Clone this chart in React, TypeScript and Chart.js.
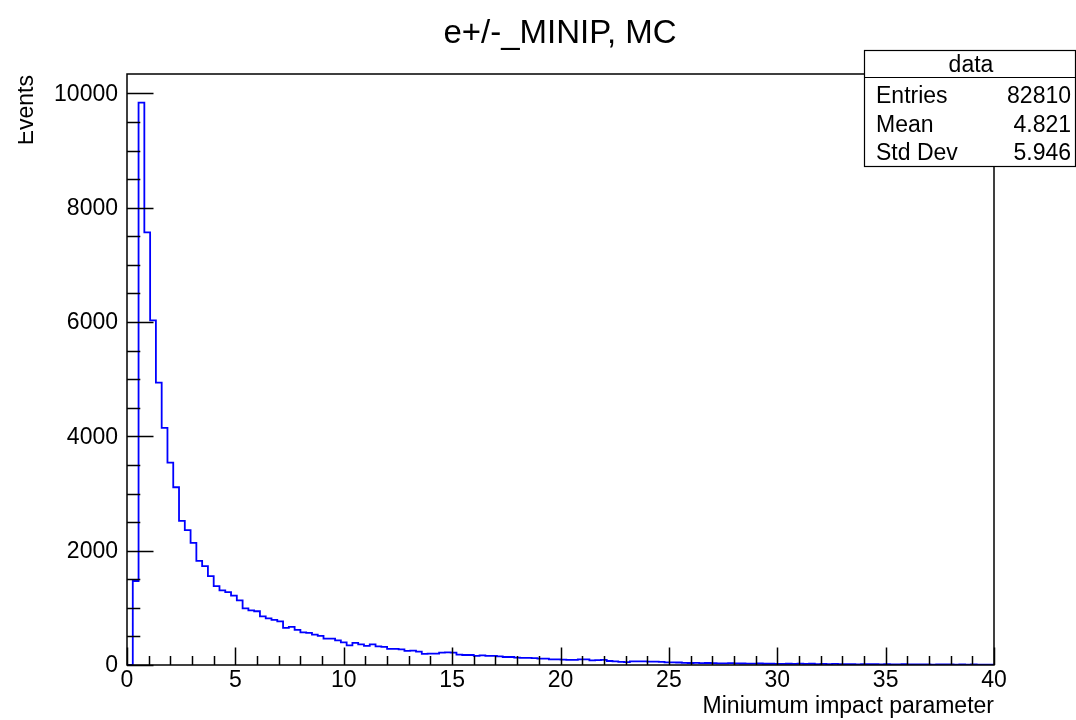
import React, { useEffect, useRef } from "react";
import { Chart, registerables } from "chart.js";

Chart.register(...registerables);

const titleText = "e+/-_MINIP, MC";
const xAxisTitle = "Miniumum impact parameter";
const yAxisTitle = "Events";
const xMin = 0;
const xMax = 40;
const yMax = 10340;

// 150 bins of width 0.2667 between 0 and 40
const counts = [
  0, 1470, 9840, 7570, 6030, 4940, 4150, 3540, 3110, 2520,
  2360, 2135, 1820, 1730, 1555, 1380, 1305, 1275, 1215, 1130,
  990, 955, 940, 850, 815, 790, 765, 650, 667, 614,
  572, 561, 532, 508, 461, 461, 432, 397, 344, 386,
  362, 333, 362, 327, 316, 281, 281, 274, 248, 251,
  233, 193, 200, 200, 216, 222, 215, 180, 175, 175,
  158, 170, 158, 158, 152, 140, 140, 128, 123, 123,
  120, 110, 110, 99, 99, 93, 88, 88, 100, 100,
  80, 85, 88, 70, 64, 55, 52, 64, 62, 64,
  60, 58, 56, 46, 46, 44, 38, 35, 36, 34,
  35, 33, 30, 30, 32, 28, 26, 25, 24, 26,
  22, 22, 20, 20, 22, 18, 25, 20, 22, 15,
  18, 16, 20, 14, 17, 15, 12, 16, 13, 14,
  11, 15, 10, 12, 13, 9, 11, 10, 12, 8,
  10, 9, 11, 7, 9, 8, 10, 7, 8, 6,
];

const xMajorTicks = [0, 5, 10, 15, 20, 25, 30, 35, 40];
const xTickLabels = ["0", "5", "10", "15", "20", "25", "30", "35", "40"];
const xMinorStep = 1;
const yMajorTicks = [0, 2000, 4000, 6000, 8000, 10000];
const yTickLabels = ["0", "2000", "4000", "6000", "8000", "10000"];
const yMinorStep = 500;

const statsTitle = "data";
const statsLabels = ["Entries", "Mean", "Std Dev"];
const statsValues = ["82810", "4.821", "5.946"];

const FONT = '"Liberation Sans", Arial, Helvetica, sans-serif';

const rootPlugin = {
  id: "rootStyle",
  afterDraw(chart: any) {
    const ctx = chart.ctx as CanvasRenderingContext2D;
    const area = chart.chartArea;
    const xs = chart.scales.x;
    const ys = chart.scales.y;
    ctx.save();
    ctx.strokeStyle = "#000";
    ctx.fillStyle = "#000";
    ctx.lineWidth = 1.5;
    // frame
    ctx.strokeRect(area.left, area.top, area.right - area.left, area.bottom - area.top);

    // x ticks
    ctx.beginPath();
    for (let v = xMin; v <= xMax + 1e-9; v += xMinorStep) {
      const px = Math.round(xs.getPixelForValue(v)) + 0.5;
      const isMajor = xMajorTicks.some((m) => Math.abs(m - v) < 1e-9);
      const len = isMajor ? 17.5 : 9;
      ctx.moveTo(px, area.bottom);
      ctx.lineTo(px, area.bottom - len);
    }
    // y ticks
    for (let v = 0; v <= yMax; v += yMinorStep) {
      const py = Math.round(ys.getPixelForValue(v)) + 0.5;
      const isMajor = yMajorTicks.includes(v);
      const len = isMajor ? 26.5 : 13.3;
      ctx.moveTo(area.left, py);
      ctx.lineTo(area.left + len, py);
    }
    ctx.stroke();

    // tick labels
    ctx.font = `23px ${FONT}`;
    ctx.textAlign = "center";
    ctx.textBaseline = "alphabetic";
    xMajorTicks.forEach((v, i) => {
      ctx.fillText(xTickLabels[i], xs.getPixelForValue(v), 687);
    });
    ctx.textAlign = "right";
    ctx.textBaseline = "middle";
    yMajorTicks.forEach((v, i) => {
      ctx.fillText(yTickLabels[i], area.left - 9, ys.getPixelForValue(v) + 1);
    });

    // axis titles
    ctx.textAlign = "right";
    ctx.textBaseline = "alphabetic";
    ctx.fillText(xAxisTitle, area.right, 713);

    ctx.save();
    ctx.beginPath();
    ctx.rect(18, 0, 200, 720);
    ctx.clip();
    ctx.translate(33, area.top + 1);
    ctx.rotate(-Math.PI / 2);
    ctx.textAlign = "right";
    ctx.textBaseline = "alphabetic";
    ctx.fillText(yAxisTitle, 0, 0);
    ctx.restore();

    // title
    ctx.font = `33px ${FONT}`;
    ctx.textAlign = "center";
    ctx.textBaseline = "alphabetic";
    ctx.fillText(titleText, 560, 43);

    // stats box
    const bx = 864.5, by = 50.5, bw = 211, bh = 116;
    ctx.fillStyle = "#fff";
    ctx.fillRect(bx, by, bw, bh);
    ctx.fillStyle = "#000";
    ctx.lineWidth = 1.2;
    ctx.strokeRect(bx, by, bw, bh);
    ctx.beginPath();
    ctx.moveTo(bx, 77.5);
    ctx.lineTo(bx + bw, 77.5);
    ctx.stroke();
    ctx.font = `23px ${FONT}`;
    ctx.textAlign = "center";
    ctx.fillText(statsTitle, 971, 72);
    const rowY = [103, 131.5, 159.5];
    statsLabels.forEach((lab, i) => {
      ctx.textAlign = "left";
      ctx.fillText(lab, 876, rowY[i]);
      ctx.textAlign = "right";
      ctx.fillText(statsValues[i], 1071, rowY[i]);
    });
    ctx.restore();
  },
};

export default function App() {
  const ref = useRef<HTMLCanvasElement | null>(null);
  useEffect(() => {
    if (!ref.current) return;
    const binW = (xMax - xMin) / counts.length;
    const pts = counts.map((c, i) => ({ x: xMin + i * binW, y: c }));
    pts.push({ x: xMax, y: counts[counts.length - 1] });
    const chart = new Chart(ref.current, {
      type: "line",
      data: {
        datasets: [
          {
            label: "data",
            data: pts,
            stepped: "before",
            borderColor: "#0000ff",
            borderWidth: 1.8,
            pointRadius: 0,
            fill: false,
          },
        ],
      },
      options: {
        responsive: false,
        animation: false,
        layout: { padding: { left: 127, top: 74, right: 82, bottom: 55 } },
        plugins: { legend: { display: false }, tooltip: { enabled: false } },
        scales: {
          x: { type: "linear", min: xMin, max: xMax, display: false },
          y: { type: "linear", min: 0, max: yMax, display: false },
        },
      },
      plugins: [rootPlugin],
    });
    return () => chart.destroy();
  }, []);
  return (
    <div style={{ position: "fixed", left: 0, top: 0, width: 1076, height: 720, background: "#fff" }}>
      <canvas ref={ref} width={1076} height={720} />
    </div>
  );
}
